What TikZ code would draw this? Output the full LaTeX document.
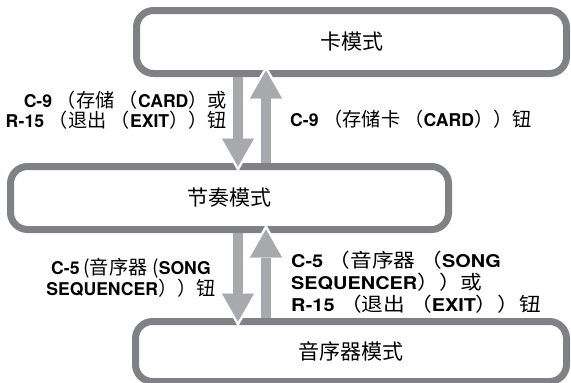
\documentclass[tikz,border=0pt]{standalone}
\usepackage{fontspec}
\setmainfont{TeX Gyre Heros}
\newfontfamily\cjk{Noto Sans CJK SC}
\newfontfamily\widesans[FakeStretch=1.13]{TeX Gyre Heros}
\newfontfamily\widecjk[FakeStretch=1.13]{Noto Sans CJK SC}
\usetikzlibrary{arrows.meta}
\definecolor{modegray}{RGB}{128,129,133}
\definecolor{flowgray}{RGB}{168,169,173}
\newcommand\zh[1]{{\cjk\mdseries\fontsize{19.2}{19.5}\selectfont #1}}
\newcommand\zw[1]{{\widecjk\mdseries\fontsize{19.2}{22}\selectfont #1}}

\begin{document}
\begin{tikzpicture}[x=1pt,y=-1pt,
    mode/.style={draw=modegray,line width=7pt,rounded corners=17pt,
      outer sep=0pt,inner sep=0pt,font=\cjk\fontsize{21}{21}\selectfont},
    lbl/.style={inner sep=0pt,font=\bfseries\fontsize{17.6}{19.5}\selectfont},
    halo/.style={white,line width=14.5pt,shorten <=6pt,shorten >=-5pt,
      -{Triangle[length=33pt,width=37.7pt,line width=0.01pt]}},
    flow/.style={flowgray,line width=9.5pt,shorten <=3.5pt,
      -{Triangle[length=28pt,width=32pt,line width=0.01pt]}}]
    \useasboundingbox (0,0) rectangle (571,383);

    % Three modes
    \node[mode,minimum width=430pt,minimum height=63pt] (card)   at (351.5,42)  {卡模式};
    \node[mode,minimum width=438pt,minimum height=63pt] (rhythm) at (229.5,198) {节奏模式};
    \node[mode,minimum width=431pt,minimum height=60pt] (seq)    at (351,351.5) {音序器模式};

    % Columns of the arrows
    \coordinate (downx) at (238,0);
    \coordinate (upx)   at (266,0);
    \coordinate (cardin) at ([yshift=3pt]card.south);

    % Card <-> rhythm
    \draw[halo] (card.south -| downx) -- (rhythm.north -| downx);
    \draw[flow] (card.south -| downx) -- (rhythm.north -| downx);
    \draw[halo] (rhythm.north -| upx) -- (cardin -| upx);
    \draw[flow] (rhythm.north -| upx) -- (cardin -| upx);

    % Rhythm <-> sequencer
    \draw[halo] (rhythm.south -| downx) -- (seq.north -| downx);
    \draw[flow] (rhythm.south -| downx) -- (seq.north -| downx);
    \draw[halo] (seq.north -| upx) -- (rhythm.south -| upx);
    \draw[flow] (seq.north -| upx) -- (rhythm.south -| upx);

    % Button labels
    \node[lbl,align=right,anchor=east] (toCard) at (227,110)
      {C-9 \zh{（存储 （}CARD\zh{）或}\\R-15 \zh{（退出 （}EXIT\zh{））钮}};
    \node[lbl,anchor=west] (fromCard) at (290,119.5)
      {C-9 \zh{（存储卡 （}CARD\zh{））钮}};
    \node[lbl,align=center] (toSeq) at (131,278)
      {C-5\zh{\hspace{0.2em}(音序器\hspace{0.25em}(}SONG\\SEQUENCER\zh{））钮}};
    \node[lbl,align=left,anchor=west,font=\widesans\bfseries\fontsize{17.6}{22}\selectfont]
      (fromSeq) at (291,282.5)
      {C-5 \zw{（音序器 （}SONG\\SEQUENCER\zw{））或}\\R-15 \zw{（退出 （}EXIT\zw{））钮}};
  \end{tikzpicture}
\end{document}
